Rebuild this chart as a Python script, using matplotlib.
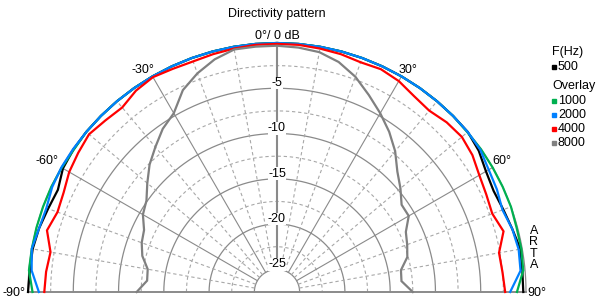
import numpy as np
import matplotlib
matplotlib.use("Agg")
import matplotlib.pyplot as plt
from matplotlib.lines import Line2D

plt.rcParams['font.family'] = ['Liberation Sans', 'DejaVu Sans']

# angles (deg) and levels (dB)
angles = list(range(-90, 95, 5))

spl_500 = [0.0, -0.1, -0.1, -0.3, -0.6, -0.8, -0.2, -0.05, 0.0, 0.0, 0.0, 0.0, 0.0, 0.0, 0.0, 0.0, 0.0, 0.0, 0.0,
           0.0, 0.0, 0.0, 0.0, 0.0, 0.0, 0.0, 0.0, 0.0, 0.0, -0.3, -0.85, -1.1, -0.9, -0.6, -0.2, -0.3, -0.3]
spl_1000 = [-0.5, 0.0, 0.0, 0.0, 0.0, 0.0, -0.05, -0.1, 0.0, 0.0, 0.0, 0.0, 0.0, 0.0, 0.0, 0.0, 0.0, 0.0, 0.0,
            0.0, 0.0, 0.0, 0.0, 0.0, 0.0, 0.0, 0.0, 0.0, -0.05, 0.0, 0.0, 0.0, 0.0, -0.1, -0.1, -0.2, -1.0]
spl_2000 = [-1.2, -0.3, 0.0, -0.3, -0.4, -0.1, 0.0, 0.0, 0.0, 0.0, 0.0, 0.0, 0.0, 0.0, 0.0, 0.0, 0.0, 0.0, 0.0,
            0.0, 0.0, 0.0, 0.0, 0.0, 0.0, 0.0, 0.0, 0.0, 0.0, -0.1, -0.5, -0.7, -1.0, -0.6, -0.4, -0.5, -1.75]
spl_4000 = [-1.8, -1.9, -2.1, -1.2, -1.7, -1.5, -1.0, -0.7, -0.4, -0.7, -0.9, -0.35, -0.1, -0.3, -0.4, -0.3, -0.2, -0.1, -0.1,
            -0.1, -0.2, -0.3, -0.5, -0.35, -0.6, -1.1, -1.35, -1.0, -0.85, -1.15, -1.7, -2.0, -2.2, -1.6, -2.6, -2.5, -2.3]
spl_8000 = [-12.0, -13.1, -13.0, -12.1, -11.6, -11.3, -10.4, -9.9, -8.8, -7.6, -6.6, -5.5, -4.7, -2.9, -1.8, -0.9, -0.3, -0.3, -0.3,
            -0.4, -0.6, -1.2, -2.2, -3.5, -4.7, -5.9, -7.2, -8.7, -9.7, -10.7, -10.7, -11.8, -12.2, -12.6, -13.6, -13.7, -12.5]

freqs = ["500", "1000", "2000", "4000", "8000"]
colors = ["#000000", "#00b050", "#0080ff", "#ff0000", "#808080"]
series = [spl_500, spl_1000, spl_2000, spl_4000, spl_8000]

ring_solid = [0, -5, -10, -15, -20, -25]
ring_dash = [-2.5, -7.5, -12.5, -17.5, -22.5]
ring_labels = [-5, -10, -15, -20, -25]
spoke_solid = [-60, -30, 0, 30, 60]
spoke_dash = [-80, -70, -50, -40, -20, -10, 10, 20, 40, 50, 70, 80]
rmin = -27.5

W, H = 600, 305
fig = plt.figure(figsize=(W / 100, H / 100), dpi=100)
fig.patch.set_facecolor("white")

def px(x, y):
    return (x / W, 1 - y / H)

def xy(ang_deg, db):
    # polar (angle from vertical, dB) -> cartesian
    a = np.radians(np.asarray(ang_deg, dtype=float))
    r = np.asarray(db, dtype=float) - rmin
    return r * np.sin(a), r * np.cos(a)

# centre of the pattern at pixel (277, 292), 0 dB at 249 px
cx, cy, R = 277, 292, 249
s = R / -rmin
ax = fig.add_axes([0, 0, 1, 1])
ax.set_xlim(-cx / s, (W - cx) / s)
ax.set_ylim(-(H - cy) / s, cy / s)
ax.set_aspect("equal")
ax.axis("off")

th = np.linspace(-90, 90, 361)
for r in ring_solid:
    ax.plot(*xy(th, np.full_like(th, r)), color="#8a8a8a", lw=0.9, zorder=1)
for r in ring_dash:
    ax.plot(*xy(th, np.full_like(th, r)), color="#a8a8a8", lw=0.8, ls=(0, (3, 2.5)), zorder=1)
for a in spoke_solid:
    lw = 1.5 if a == 0 else 0.8
    ax.plot(*xy([a, a], [-25, 0]), color="#8a8a8a", lw=lw, zorder=1)
for a in spoke_dash:
    ax.plot(*xy([a, a], [-25, 0]), color="#a8a8a8", lw=0.8, ls=(0, (3, 2.5)), zorder=1)
ax.plot(*xy([-90, 0, 90], [0, rmin, 0]), color="#8a8a8a", lw=1.4, zorder=1)

for r in ring_labels:
    x0, y0 = xy(0, r)
    ax.text(x0, y0 - 0.1, str(r), ha="center", va="bottom", fontsize=9, zorder=3,
            bbox=dict(facecolor="white", edgecolor="none", pad=0.2))

for vals, c in zip(series, colors):
    ax.plot(*xy(angles, vals), color=c, lw=1.6, zorder=4, solid_joinstyle="miter")

# angle labels
def alabel(txt, ang, dx, dy, ha, va):
    ax.annotate(txt, xy(ang, 0), xytext=(dx, dy), textcoords="offset points",
                ha=ha, va=va, fontsize=9)

alabel("0°/ 0 dB", 0, 0, 1, "center", "bottom")
alabel("30°", 30, -2, 0, "left", "bottom")
alabel("-30°", -30, 1, 0, "right", "bottom")
alabel("60°", 60, 0, 0, "left", "bottom")
alabel("-60°", -60, -2, 0, "right", "bottom")
alabel("90°", 90, 1, -1, "left", "center")
alabel("-90°", -90, -2, -1, "right", "center")

fig.text(*px(277, 14), "Directivity pattern", ha="center", va="center", fontsize=9)

# legend
fig.text(*px(552, 52), "F(Hz)", ha="left", va="center", fontsize=9)
fig.text(*px(552, 86), "Overlay", ha="left", va="center", fontsize=9)
leg_y = [67, 101, 115, 129, 143]
for f, c, y in zip(freqs, colors, leg_y):
    fig.add_artist(Line2D([554 / W], [1 - y / H], marker="s", ms=3, color=c, mec=c,
                          transform=fig.transFigure))
    fig.text(*px(558, y), f, ha="left", va="center", fontsize=9)

fig.text(*px(534, 248), "A\nR\nT\nA", ha="center", va="center", fontsize=9, linespacing=0.95)

fig.savefig("out.png", dpi=100, facecolor="white")
